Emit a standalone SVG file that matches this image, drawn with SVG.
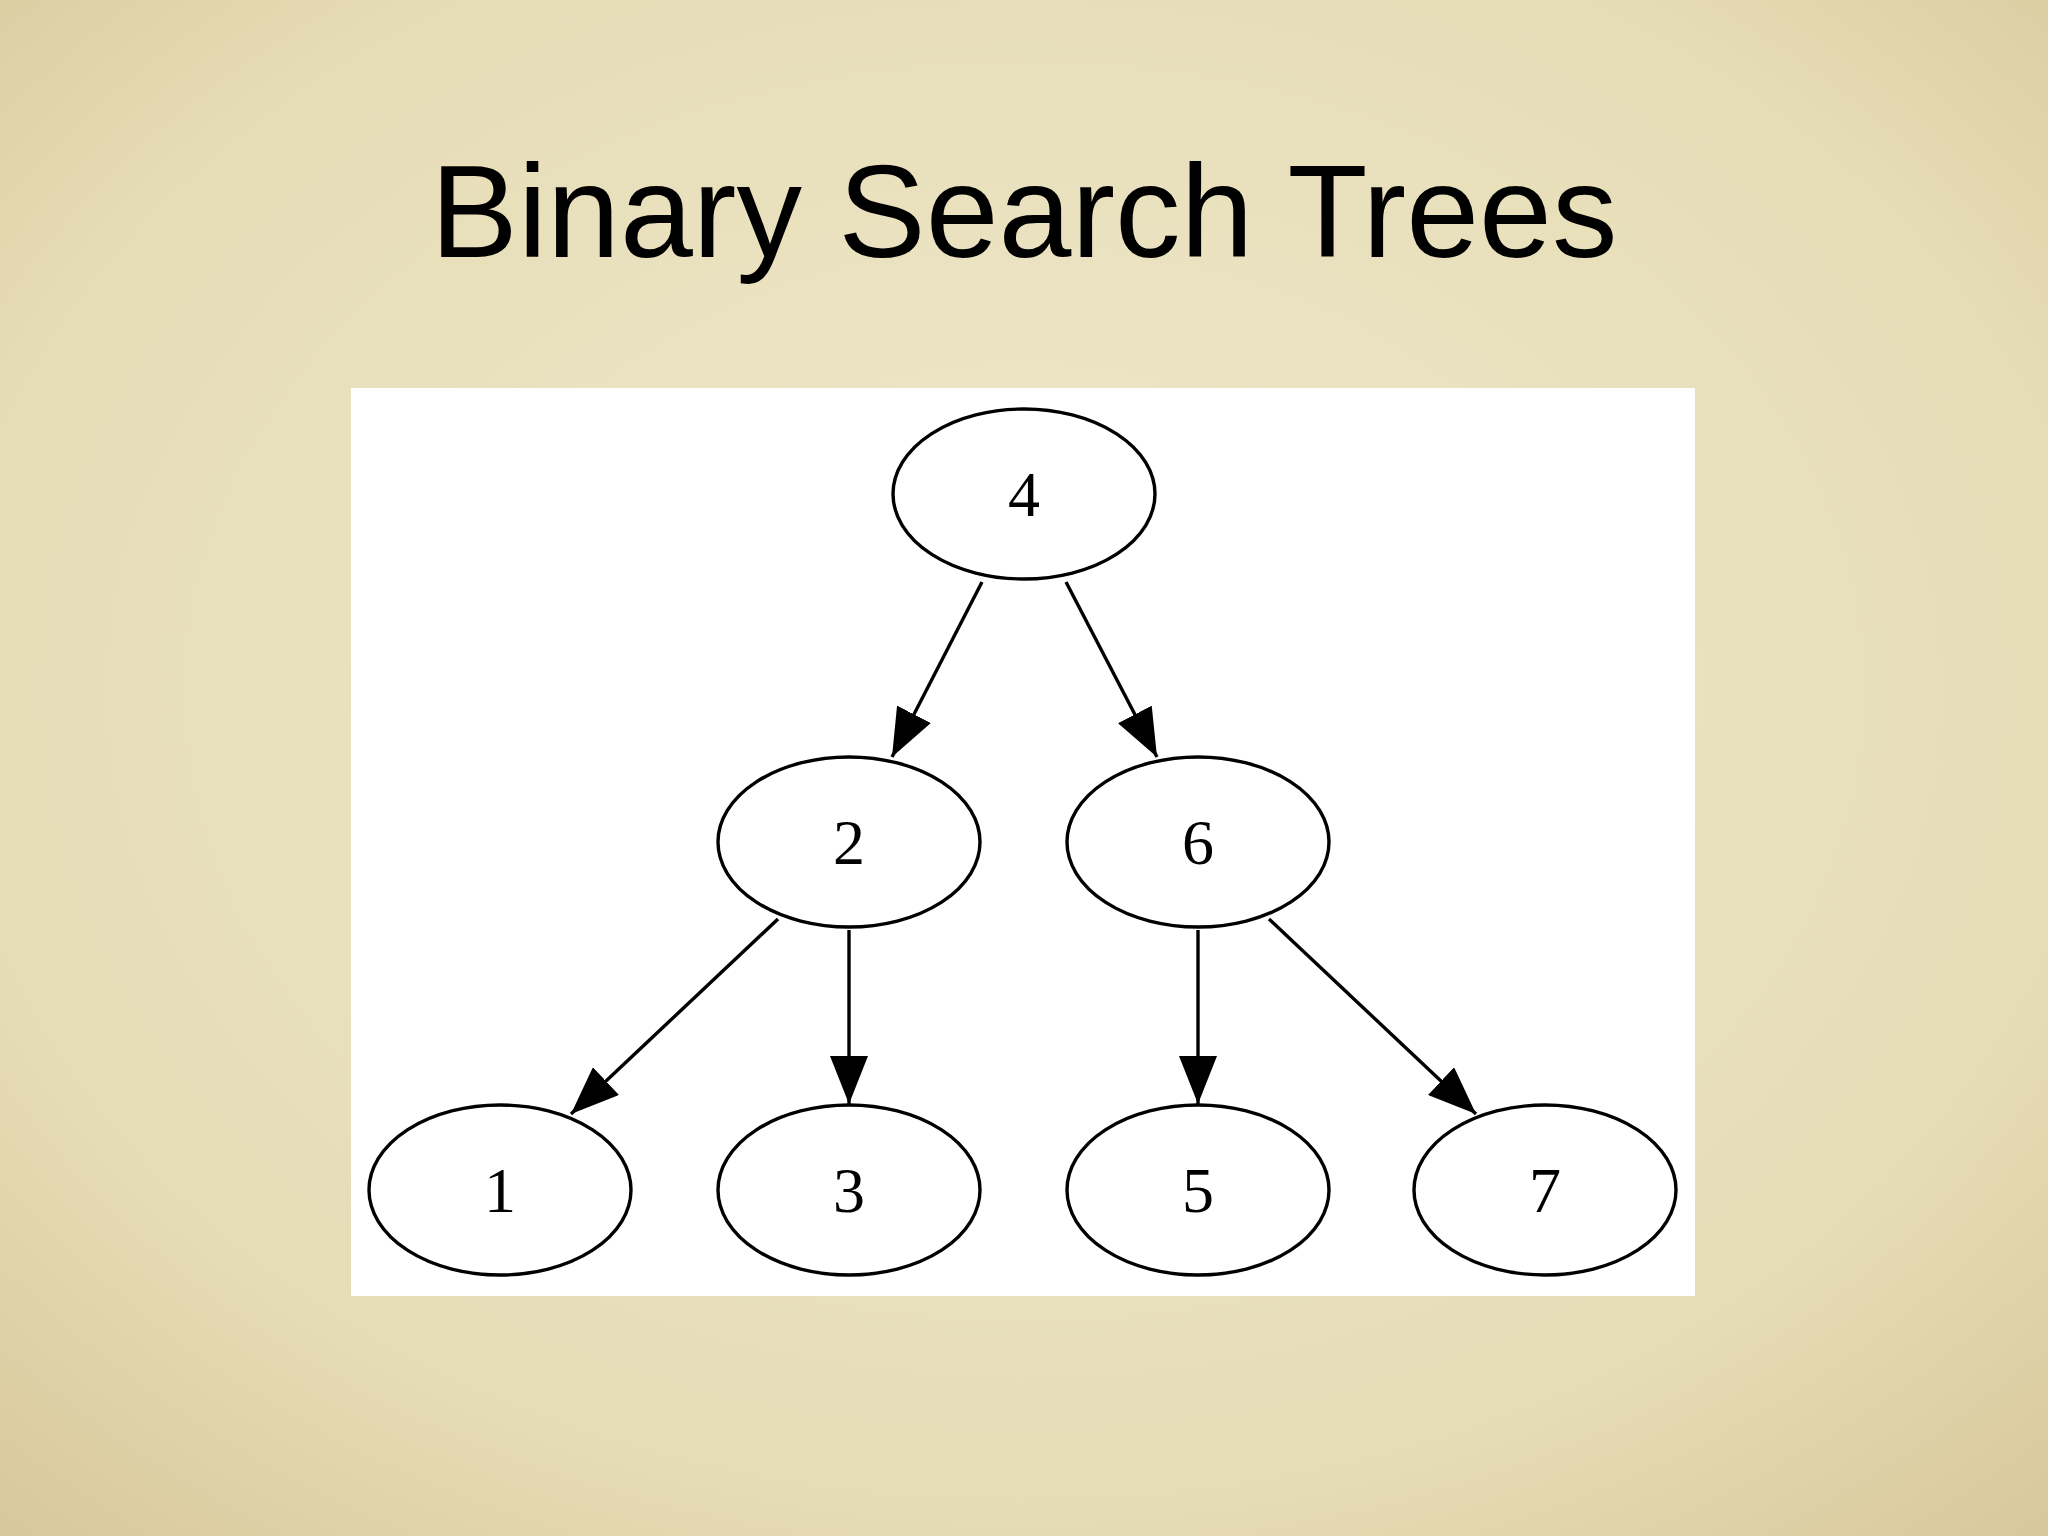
<svg xmlns="http://www.w3.org/2000/svg" width="2048" height="1536" viewBox="0 0 2048 1536">
<defs>
<radialGradient id="bg" cx="0.5" cy="0.45" r="0.75">
<stop offset="0" stop-color="#efe9cc"/>
<stop offset="0.7" stop-color="#e6dcb6"/>
<stop offset="1" stop-color="#d8c79a"/>
</radialGradient>
<marker id="ah" markerUnits="userSpaceOnUse" markerWidth="48" markerHeight="38" refX="48" refY="19" orient="auto">
<path d="M0,0 L48,19 L0,38 Z" fill="#000"/>
</marker>
<style>
.n ellipse{fill:#fff;stroke:#000;stroke-width:3.4}
.n text{font-family:"Liberation Serif",serif;font-size:64px;text-anchor:middle;fill:#000}
#edges line{stroke:#000;stroke-width:3.4;marker-end:url(#ah)}
</style>
</defs>
<rect width="2048" height="1536" fill="url(#bg)"/>
<text x="1024" y="257" font-family="Liberation Sans,Arial,sans-serif" font-size="131" text-anchor="middle" fill="#000">Binary Search Trees</text>
<rect x="351" y="388" width="1344" height="908" fill="#fff"/>
<g id="edges">
<line x1="982" y1="582" x2="892" y2="757"/>
<line x1="1066" y1="582" x2="1157" y2="757"/>
<line x1="778" y1="919" x2="571" y2="1114"/>
<line x1="849" y1="930" x2="849" y2="1104"/>
<line x1="1198" y1="930" x2="1198" y2="1104"/>
<line x1="1269" y1="919" x2="1476" y2="1114"/>
</g>
<g id="n4" class="n"><ellipse cx="1024" cy="494" rx="131" ry="85"/><text x="1024" y="516">4</text></g>
<g id="n2" class="n"><ellipse cx="849" cy="842" rx="131" ry="85"/><text x="849" y="864">2</text></g>
<g id="n6" class="n"><ellipse cx="1198" cy="842" rx="131" ry="85"/><text x="1198" y="864">6</text></g>
<g id="n1" class="n"><ellipse cx="500" cy="1190" rx="131" ry="85"/><text x="500" y="1212">1</text></g>
<g id="n3" class="n"><ellipse cx="849" cy="1190" rx="131" ry="85"/><text x="849" y="1212">3</text></g>
<g id="n5" class="n"><ellipse cx="1198" cy="1190" rx="131" ry="85"/><text x="1198" y="1212">5</text></g>
<g id="n7" class="n"><ellipse cx="1545" cy="1190" rx="131" ry="85"/><text x="1545" y="1212">7</text></g>
</svg>
